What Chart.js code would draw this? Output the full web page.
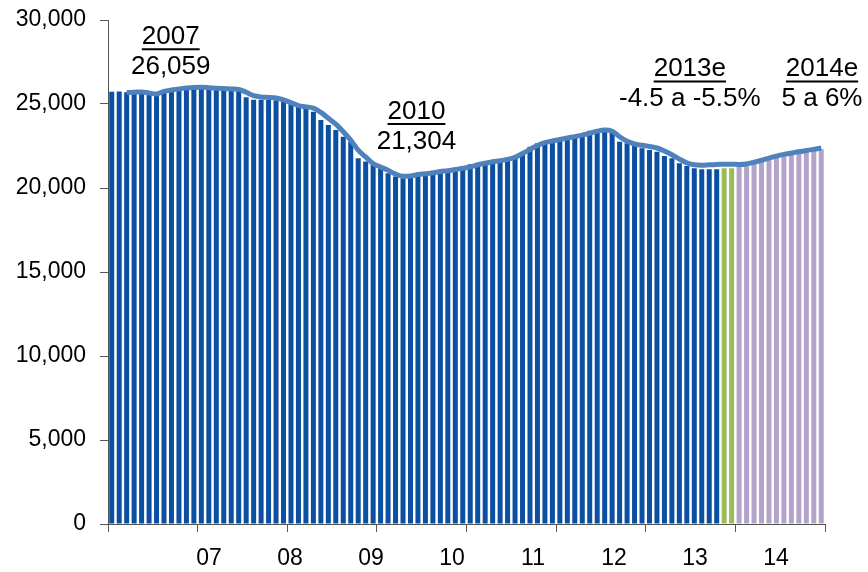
<!DOCTYPE html>
<html lang="es">
<head>
  <meta charset="UTF-8" />
  <title>Ventas mensuales 2007-2014</title>
  <script src="https://cdn.jsdelivr.net/npm/chart.js"></script>
  <style>
    html, body {
      margin: 0;
      padding: 0;
      background: #fff;
    }
    .chart-box {
      width: 868px;
      height: 572px;
      position: relative;
    }
  </style>
</head>
<body>
  <div class="chart-box">
    <canvas id="chart"></canvas>
  </div>

  <script>
    // --- data ---
    const years = [2007, 2008, 2009, 2010, 2011, 2012, 2013, 2014];
    const months = ['Ene', 'Feb', 'Mar', 'Abr', 'May', 'Jun', 'Jul', 'Ago', 'Sep', 'Oct', 'Nov', 'Dic'];
    const categories = years.flatMap(y => months.map(m => m + ' ' + y));

    const yearLabels = ['07', '08', '09', '10', '11', '12', '13', '14'];

    // monthly bars
    const monthly = [
      25730, 25750, 25700, 25720, 25750, 25650, 25620, 25800, 25900, 25950, 25980, 26000,
      25980, 25950, 25930, 25900, 25880, 25850, 25400, 25260, 25250, 25240, 25220, 25200,
      25000, 24880, 24740, 24540, 24050, 23750, 23450, 23050, 22750, 21770, 21570, 21370,
      21170, 20880, 20680, 20580, 20820, 20830, 20880, 21030, 21030, 21110, 21170, 21310,
      21420, 21500, 21520, 21660, 21650, 21720, 21850, 22060, 22460, 22660, 22750, 22800,
      22880, 23090, 23120, 23220, 23410, 23490, 23500, 23420, 22760, 22660, 22560, 22360,
      22260, 22160, 21900, 21770, 21470, 21310, 21170, 21110, 21110, 21110, 21170, 21170,
      21250, 21300, 21420, 21550, 21650, 21780, 21880, 21960, 22050, 22130, 22200, 22300
    ];

    // trend line
    const trend = [
      null,  null,  25680, 25700, 25720, 25650, 25600, 25750, 25830, 25900, 25950, 25980,
      25990, 25970, 25940, 25920, 25900, 25870, 25700, 25500, 25420, 25390, 25360, 25250,
      25080, 24900, 24830, 24760, 24500, 24150, 23800, 23350, 22850, 22250, 21850, 21450,
      21250, 21050, 20830, 20700, 20720, 20800, 20850, 20900, 20980, 21030, 21100, 21170,
      21250, 21380, 21470, 21560, 21620, 21700, 21830, 22050, 22300, 22530, 22700, 22800,
      22890, 22980, 23060, 23150, 23250, 23380, 23450, 23380, 23050, 22780, 22620, 22540,
      22470, 22380, 22200, 21980, 21720, 21500, 21380, 21360, 21380, 21400, 21420, 21420,
      21400, 21430, 21530, 21650, 21780, 21900, 22000, 22080, 22160, 22230, 22300, 22380
    ];

    const estimateStart = 82;   // Nov 2013
    const forecastStart = 84;   // Jan 2014

    const notes = [
      { head: '2007',  sub: '26,059',       at: 7.9,  value: 29000 },
      { head: '2010',  sub: '21,304',       at: 40.8, value: 24550 },
      { head: '2013e', sub: '-4.5 a -5.5%', at: 77.4, value: 27080 },
      { head: '2014e', sub: '5 a 6%',       at: 95.1, value: 27080 }
    ];

    // --- styles ---
    const FONT = "'Liberation Sans', Arial, sans-serif";
    const axisGrey = '#555555';
    const barBlue = '#0B4FA3';
    const barGreen = '#9BBB59';
    const barPurple = '#B3A3CB';

    // year labels sit on their own axis, spread a bit tighter than the year ticks
    const yearAxisMin = -1.247;
    const yearAxisMax = 7.605;

    function barColor(i) {
      if (i < estimateStart) return barBlue;
      if (i < forecastStart) return barGreen;
      return barPurple;
    }

    function noPadding(scale) {
      scale.paddingTop = 0;
      scale.paddingBottom = 0;
      scale.paddingLeft = 0;
      scale.paddingRight = 0;
    }

    const notesPlugin = {
      id: 'notes',
      afterDraw(chart) {
        const { ctx, scales } = chart;
        ctx.save();
        ctx.fillStyle = '#000';
        ctx.strokeStyle = '#000';
        ctx.font = '26px ' + FONT;
        ctx.textAlign = 'center';
        ctx.textBaseline = 'middle';
        notes.forEach(n => {
          const x = scales.x.getPixelForValue(n.at);
          const y = scales.y.getPixelForValue(n.value);
          ctx.fillText(n.head, x, y);
          const w = ctx.measureText(n.head).width;
          ctx.lineWidth = 2;
          ctx.beginPath();
          ctx.moveTo(x - w / 2, y + 12.5);
          ctx.lineTo(x + w / 2, y + 12.5);
          ctx.stroke();
          ctx.fillText(n.sub, x, y + 30);
        });
        ctx.restore();
      }
    };

    new Chart(document.getElementById('chart'), {
      type: 'bar',
      data: {
        labels: categories,
        datasets: [
          {
            type: 'line',
            label: 'Tendencia',
            data: trend,
            borderColor: '#4F81BD',
            borderWidth: 5,
            pointRadius: 0,
            cubicInterpolationMode: 'monotone',
            order: 0
          },
          {
            label: 'Mensual',
            data: monthly,
            backgroundColor: monthly.map((_, i) => barColor(i)),
            barPercentage: 0.67,
            categoryPercentage: 1.0,
            order: 1
          }
        ]
      },
      options: {
        responsive: true,
        maintainAspectRatio: false,
        animation: false,
        layout: { padding: { top: 20, right: 43, bottom: 0, left: 0 } },
        plugins: {
          legend: { display: false },
          tooltip: { enabled: false }
        },
        scales: {
          x: {
            weight: 0,
            grid: {
              drawOnChartArea: false,
              drawTicks: true,
              tickLength: 8,
              color: c => (c.index === undefined || c.index % 12 === 0) ? axisGrey : 'rgba(0,0,0,0)'
            },
            border: { display: true, color: axisGrey, width: 1 },
            ticks: { display: false, autoSkip: false },
            afterFit: noPadding
          },
          yr: {
            type: 'linear',
            position: 'bottom',
            weight: 1,
            offset: false,
            bounds: 'data',
            min: yearAxisMin,
            max: yearAxisMax,
            grid: { display: false, drawTicks: false, offset: false },
            border: { display: false },
            afterBuildTicks: axis => {
              axis.ticks = yearLabels.map((_, k) => ({ value: k }));
              axis.min = yearAxisMin;
              axis.max = yearAxisMax;
            },
            ticks: {
              autoSkip: false,
              maxRotation: 0,
              padding: 12.4,
              color: '#000',
              font: { family: FONT, size: 23 },
              callback: v => yearLabels[v]
            },
            afterFit: s => {
              s.height = 40;
              noPadding(s);
            }
          },
          y: {
            min: 0,
            max: 30000,
            grid: {
              drawOnChartArea: false,
              drawTicks: true,
              tickLength: 8,
              color: axisGrey
            },
            border: { display: true, color: axisGrey, width: 1 },
            ticks: {
              stepSize: 5000,
              padding: 14,
              color: '#000',
              font: { family: FONT, size: 23 },
              callback: v => v.toLocaleString('en-US')
            },
            afterFit: s => {
              s.width = 108;
              noPadding(s);
            }
          }
        }
      },
      plugins: [notesPlugin]
    });
  </script>
</body>
</html>
